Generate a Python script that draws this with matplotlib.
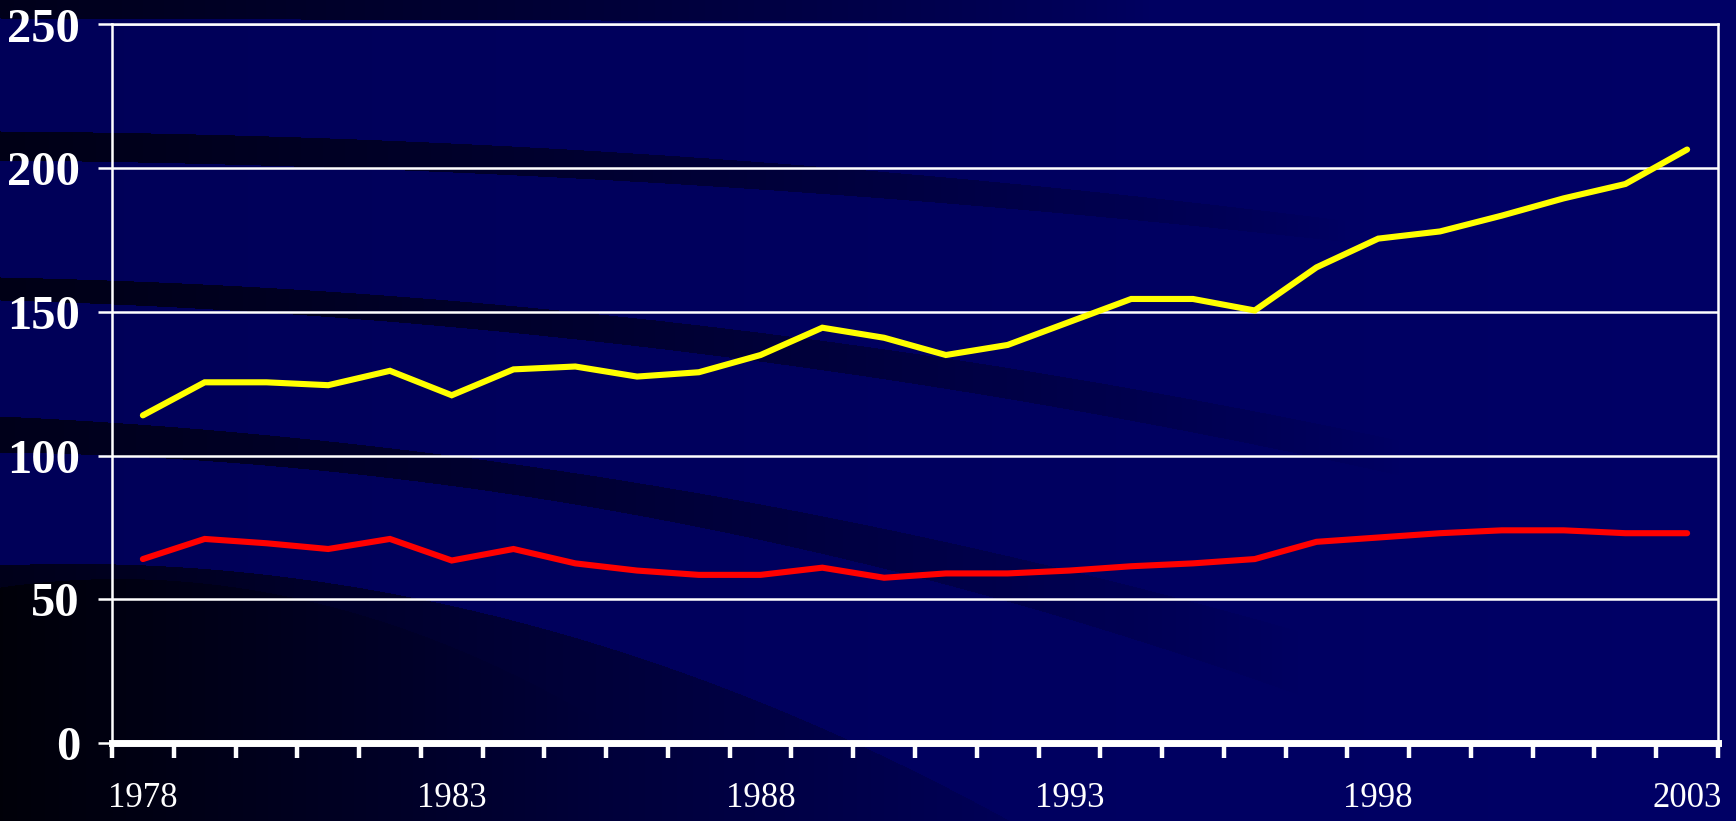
import numpy as np
import matplotlib
matplotlib.use("Agg")
import matplotlib.pyplot as plt

years = list(range(1978, 2004))
yellow_vals = [114, 125.5, 125.5, 124.5, 129.5, 121, 130, 131, 127.5, 129,
               135, 144.5, 141, 135, 138.5, 146.5, 154.5, 154.5, 150.5, 165.5,
               175.5, 178, 183.5, 189.5, 194.5, 206.5]
red_vals = [64, 71, 69.5, 67.5, 71, 63.5, 67.5, 62.5, 60, 58.5,
            58.5, 61, 57.5, 59, 59, 60, 61.5, 62.5, 64, 70,
            71.5, 73, 74, 74, 73, 73]
xtick_labels = ["1978", "1983", "1988", "1993", "1998", "2003"]
ytick_vals = [0, 50, 100, 150, 200, 250]

W, H = 1736, 821
fig = plt.figure(figsize=(W / 100, H / 100), dpi=100)

# background: navy with dark swooshes
yy, xx = np.mgrid[0:H, 0:W]
col = xx[0]
bg = np.zeros((H, W, 3))
bg[..., 2] = 88 + 14 * xx / W
dark = np.zeros((H, W))


def edge(pts):
    xs, ys = zip(*pts)
    c = np.polyfit(xs, ys, 2)
    return np.polyval(c, col)


def band(top, bot, strength, xend):
    t = edge(top)
    b = edge(bot) if bot is not None else np.full(W, H + 10.0)
    fade = np.clip(1 - col / xend, 0, 1) ** 0.8
    m = (yy >= t) & (yy <= b)
    return np.where(m, strength * fade, 0)


dark = np.maximum(dark, band([(0, -5), (600, -5), (1200, -5)], [(0, 18), (600, 20), (1200, 22)], 0.7, 1150))
dark = np.maximum(dark, band([(0, 131), (664, 155), (1218, 205)], [(0, 160), (664, 183), (1218, 228)], 0.75, 1350))
dark = np.maximum(dark, band([(0, 277), (664, 321), (1218, 404)], [(0, 300), (664, 349), (1218, 437)], 0.75, 1400))
dark = np.maximum(dark, band([(0, 416), (664, 487), (996, 553)], [(0, 452), (664, 520), (996, 598)], 0.7, 1300))
dark = np.maximum(dark, band([(0, 565), (440, 603), (775, 708)], None, 0.7, 1100))
dark = np.maximum(dark, band([(0, 587), (440, 642), (720, 800)], None, 0.9, 900))
bg = (bg * (1 - dark[..., None])).clip(0, 255).astype(np.uint8)

bax = fig.add_axes([0, 0, 1, 1])
bax.imshow(bg, aspect="auto", interpolation="bilinear")
bax.axis("off")

ax = fig.add_axes([112 / W, (H - 743) / H, (1718 - 112) / W, (743 - 24.5) / H])
ax.set_facecolor("none")

x = np.arange(len(years))
ax.plot(x, yellow_vals, color="#ffff00", lw=4.4, solid_capstyle="round", solid_joinstyle="miter", zorder=3)
ax.plot(x, red_vals, color="#ff0000", lw=4.4, solid_capstyle="round", solid_joinstyle="miter", zorder=3)

ax.set_xlim(-0.5, len(years) - 0.5)
ax.set_ylim(0, 250)

ax.set_yticks(ytick_vals)
ax.set_yticklabels([str(v) for v in ytick_vals])
ax.grid(axis="y", color="white", lw=1.8, zorder=1)

label_pos = [years.index(int(s)) for s in xtick_labels]
ax.set_xticks(label_pos)
ax.set_xticklabels(xtick_labels)
ax.set_xticks(np.arange(-0.5, len(years)), minor=True)

ax.tick_params(axis="x", which="major", length=0, pad=28, labelsize=25, labelcolor="white")
ax.tick_params(axis="x", which="minor", length=10.5, width=3.2, color="white", direction="out")
ax.tick_params(axis="y", length=10, width=1.8, color="white", pad=13, labelsize=35, labelcolor="white")

for lab in ax.get_xticklabels():
    lab.set_family(["Liberation Serif", "DejaVu Serif"])
for lab in ax.get_yticklabels():
    lab.set_family(["Liberation Serif", "DejaVu Serif"])
    lab.set_fontweight("bold")

for s in ["left", "right", "top"]:
    ax.spines[s].set_color("white")
    ax.spines[s].set_linewidth(1.8)
ax.spines["bottom"].set_color("white")
ax.spines["bottom"].set_linewidth(5)
ax.spines["bottom"].set_zorder(4)

fig.savefig("out.png", dpi=100)
